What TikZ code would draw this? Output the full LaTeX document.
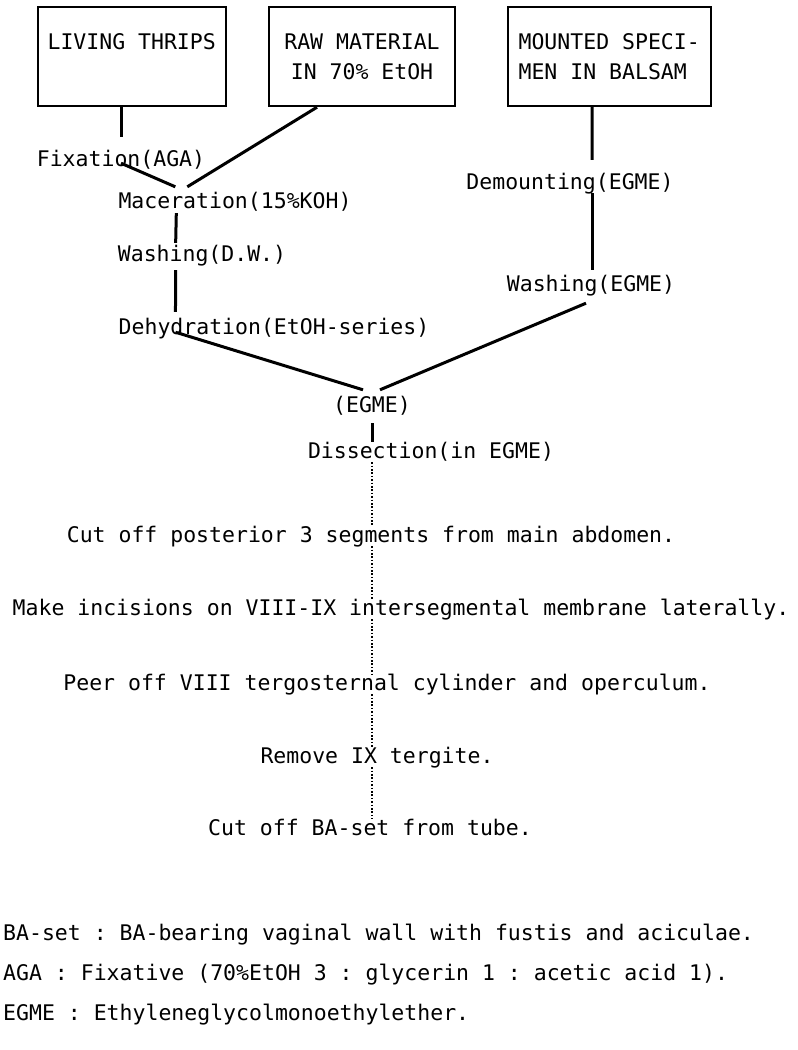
\documentclass[tikz,border=0pt]{standalone}
\usepackage{fontspec}
\setmonofont{DejaVu Sans Mono}
\newcommand{\stepfont}{\ttfamily\fontsize{21.5}{30}\selectfont}

\begin{document}
\begin{tikzpicture}[x={(1pt,0)},y={(0,-1pt)},
	every node/.style={font=\stepfont},
	srcbox/.style={draw,line width=2.4pt,minimum height=99pt,inner sep=0pt},
	stage/.style={inner sep=0pt,anchor=base,text height=16pt,text depth=4pt},
	note/.style={inner sep=0pt,anchor=base west},
	link/.style={line width=3pt},
	trail/.style={line width=2.2pt,dash pattern=on 1.6pt off 1.8pt}]
	\useasboundingbox (0,0) rectangle (798,1050);
	% starting material
	\node[srcbox,minimum width=188pt,align=center] (thrips) at (131.7,56.5) {LIVING THRIPS\\\phantom{I}};
	\node[srcbox,minimum width=186pt,align=center] (raw) at (362,56.5) {RAW MATERIAL\\IN 70\% EtOH};
	\node[srcbox,minimum width=203pt,align=left] (mounted) at (609.2,56.5) {MOUNTED SPECI-\\MEN IN BALSAM};
	% left branch
	\node[stage] (fix) at (121,166) {Fixation(AGA)};
	\node[stage] (mac) at (235,208) {Maceration(15\%KOH)};
	\node[stage] (wash1) at (202,261) {Washing(D.W.)};
	\node[stage] (dehyd) at (274,334) {Dehydration(EtOH-series)};
	% right branch
	\node[stage] (demount) at (570,189) {Demounting(EGME)};
	\node[stage] (wash2) at (591,291) {Washing(EGME)};
	% common steps
	\node[stage] (egme) at (372,412) {(EGME)};
	\node[stage] (diss) at (431,458) {Dissection(in EGME)};
	\node[stage] (cut1) at (371,542) {Cut off posterior 3 segments from main abdomen.};
	\node[stage] (inc) at (401,615) {Make incisions on VIII-IX intersegmental membrane laterally.};
	\node[stage] (peer) at (387,690) {Peer off VIII tergosternal cylinder and operculum.};
	\node[stage] (rem) at (377,763) {Remove IX tergite.};
	\node[stage] (cutba) at (370,835) {Cut off BA-set from tube.};
	% abbreviations
	\node[note] (kba) at (3,940) {BA-set : BA-bearing vaginal wall with fustis and aciculae.};
	\node[note] (kaga) at (3,980) {AGA : Fixative (70\%EtOH 3 : glycerin 1 : acetic acid 1).};
	\node[note] (kegme) at (3,1020) {EGME : Ethyleneglycolmonoethylether.};

	\draw[link] (fix.north |- thrips.south) -- ([yshift=13pt]fix.north);
	\draw[link] ([yshift=7pt]fix.south) -- ([xshift=57pt,yshift=5pt]mac.north west);
	\draw[link] ([xshift=-45pt]raw.south) -- ([xshift=69pt,yshift=5pt]mac.north west);
	\draw[link] ([xshift=58pt,yshift=-1pt]mac.south west) -- ([xshift=58pt,yshift=2pt]wash1.north west);
	\draw[link] ([xshift=58pt,yshift=-5pt]wash1.south west) -- ([xshift=57pt,yshift=6pt]dehyd.north west);
	\draw[link] ([xshift=57pt,yshift=6pt]dehyd.south west) -- ([xshift=-9pt,yshift=6pt]egme.north);
	\draw[link] ([xshift=-17pt]mounted.south) -- ([xshift=22pt,yshift=13pt]demount.north);
	\draw[link] ([xshift=22pt]demount.south) -- ([xshift=1pt,yshift=5pt]wash2.north);
	\draw[link] ([xshift=-5pt,yshift=-8pt]wash2.south) -- ([xshift=8pt,yshift=6pt]egme.north);
	\draw[link] ([yshift=-7pt]egme.south) -- (egme.south |- diss.north);
	\draw[trail] (egme.south |- diss.south) -- (egme.south |- cut1.north);
	\draw[trail] (egme.south |- cut1.south) -- (egme.south |- inc.north);
	\draw[trail] (egme.south |- inc.south) -- (egme.south |- peer.north);
	\draw[trail] (egme.south |- peer.south) -- (egme.south |- rem.north);
	\draw[trail] (egme.south |- rem.south) -- (egme.south |- cutba.north);
\end{tikzpicture}
\end{document}
